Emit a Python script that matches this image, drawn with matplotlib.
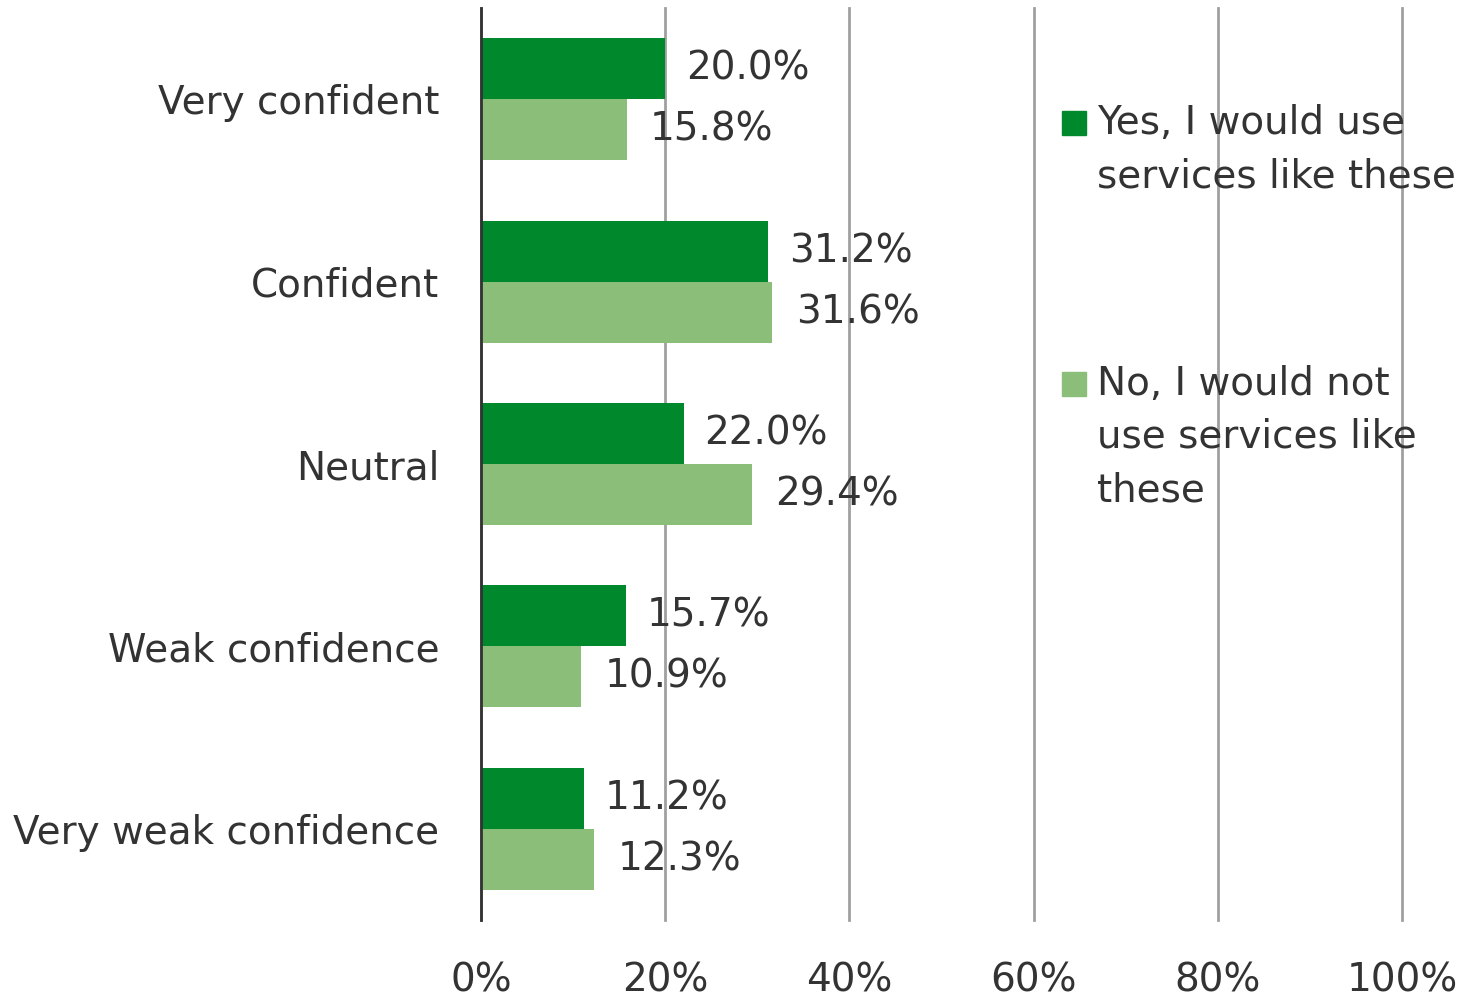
import matplotlib
matplotlib.use("Agg")
import matplotlib.pyplot as plt
from matplotlib.patches import Rectangle
import numpy as np

categories = ["Very confident", "Confident", "Neutral", "Weak confidence", "Very weak confidence"]
yes_values = [20.0, 31.2, 22.0, 15.7, 11.2]
no_values = [15.8, 31.6, 29.4, 10.9, 12.3]
series_names = ["Yes, I would use\nservices like these", "No, I would not\nuse services like\nthese"]
xticks = [0, 20, 40, 60, 80, 100]
xtick_labels = ["0%", "20%", "40%", "60%", "80%", "100%"]

dark = "#00882C"
light = "#8BBF79"
text_color = "#333333"
FS = 28

plt.rcParams['font.family'] = ['DejaVu Sans']

W, H = 1477, 1001
fig = plt.figure(figsize=(W/100, H/100), dpi=100)
ax = fig.add_axes([481/W, 1-920/H, (1402-481)/W, (920-8)/H])

y = np.arange(len(categories))
h = 0.334
b1 = ax.barh(y - h/2, yes_values, height=h, color=dark, label=series_names[0], zorder=2)
b2 = ax.barh(y + h/2, no_values, height=h, color=light, label=series_names[1], zorder=2)

ax.bar_label(b1, labels=[f"{v:.1f}%" for v in yes_values], padding=15, fontsize=FS, color=text_color)
ax.bar_label(b2, labels=[f"{v:.1f}%" for v in no_values], padding=17, fontsize=FS, color=text_color)

ax.set_ylim(len(categories) - 0.5, -0.5)
ax.set_xlim(0, 100)
ax.set_yticks(y)
ax.set_yticklabels(categories, fontsize=FS, color=text_color)
ax.set_xticks(xticks)
ax.set_xticklabels(xtick_labels, fontsize=FS, color=text_color)
ax.tick_params(axis='x', length=0, pad=30)
ax.tick_params(axis='y', length=0, pad=30)

for s in ["top", "right", "bottom"]:
    ax.spines[s].set_visible(False)
ax.spines["left"].set_color("#333333")
ax.spines["left"].set_linewidth(2)
ax.spines["left"].set_zorder(3)

ax.grid(axis='x', color="#A0A0A0", linewidth=2, zorder=1)
ax.set_axisbelow(True)
for gl in ax.get_xgridlines():
    gl.set_clip_on(False)

# Legend drawn manually (square aligned to first text line)
legend_colors = [dark, light]
legend_first_y = [123, 384]
line_step = 53
for name, col, y0 in zip(series_names, legend_colors, legend_first_y):
    fig.patches.append(Rectangle((1062/W, 1-(y0+12)/H), 24/W, 24/H,
                                 transform=fig.transFigure, color=col, figure=fig))
    for i, line in enumerate(name.split("\n")):
        fig.text(1097/W, 1-(y0 + i*line_step)/H, line, fontsize=FS, color=text_color,
                 ha="left", va="center")

fig.savefig("out.png", dpi=100)
